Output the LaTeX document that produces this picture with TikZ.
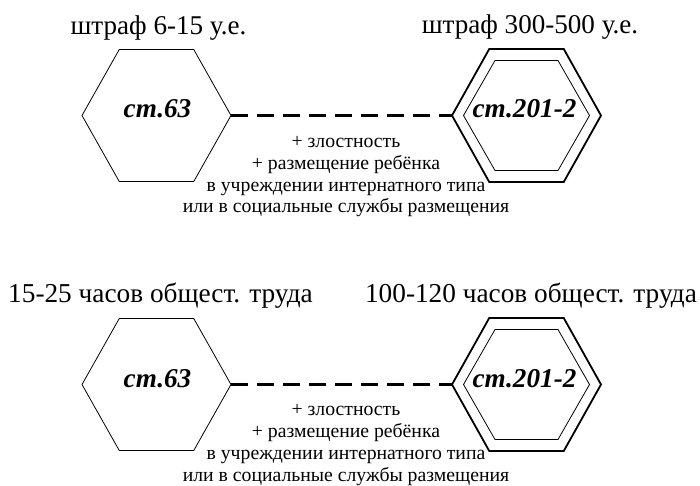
\documentclass[tikz,border=0pt]{standalone}
\usepackage{fontspec}
\setmainfont{Liberation Serif}
\newcommand\myhex[4]{\draw[shift={(#1)},#4] (-#2,0) -- (-#2/2,-#3) -- (#2/2,-#3) -- (#2,0) -- (#2/2,#3) -- (-#2/2,#3) -- cycle;}
\tikzset{
  thinhex/.style={line width=0.8bp, line join=miter},
  thickhex/.style={line width=1.8bp, line join=miter},
  linkline/.style={line width=3bp, dash pattern=on 17bp off 9bp},
  toplabel/.style={inner sep=0, anchor=base, font=\fontsize{27.2}{30}\selectfont},
  botlabel/.style={inner sep=0, anchor=base, font=\fontsize{27.4}{30}\selectfont},
  artlabel/.style={inner sep=0, anchor=base, font=\fontsize{27.3}{30}\selectfont\bfseries\itshape},
  note/.style={inner sep=0, anchor=base, align=center, font=\fontsize{19.8}{22}\selectfont}
}
\begin{document}
\begin{tikzpicture}[x=1bp,y=-1bp]
\useasboundingbox (0,0) rectangle (700,486);
% ---- top panel ----
\coordinate (A) at (156.5,115.5);
\coordinate (B) at (526.5,115.5);
\myhex{A}{74.5}{66}{thinhex}
\myhex{B}{74.5}{66.5}{thickhex}
\myhex{B}{63}{55}{thinhex}
\coordinate (Ar) at (231,115.5);
\coordinate (Bl) at (452,115.5);
\draw[linkline] (Ar) -- (Bl);
\node[artlabel] (a1) at (157.5,118) {ст.63};
\node[artlabel] (b1) at (524.5,118) {ст.201-2};
\node[toplabel] (la) at (158.5,35) {штраф 6-15 у.е.};
\node[toplabel] (lb) at (530,34) {штраф 300-500 у.е.};
\node[note] (n1) at (346,213) {+ злостность\\+ размещение ребёнка\\в учреждении интернатного типа\\или в социальные службы размещения};
% ---- bottom panel ----
\coordinate (C) at (156.5,384.5);
\coordinate (D) at (526.5,384.5);
\myhex{C}{74.5}{66}{thinhex}
\myhex{D}{74.5}{66.5}{thickhex}
\myhex{D}{63}{55}{thinhex}
\coordinate (Cr) at (231,384.5);
\coordinate (Dl) at (452,384.5);
\draw[linkline] (Cr) -- (Dl);
\node[artlabel] (c1) at (157.5,387) {ст.63};
\node[artlabel] (d1) at (524.5,387) {ст.201-2};
\node[botlabel] (lc) at (160.5,302) {15-25 часов общест. труда};
\node[botlabel] (ld) at (531,302) {100-120 часов общест. труда};
\node[note] (n2) at (346,481) {+ злостность\\+ размещение ребёнка\\в учреждении интернатного типа\\или в социальные службы размещения};
\end{tikzpicture}
\end{document}
